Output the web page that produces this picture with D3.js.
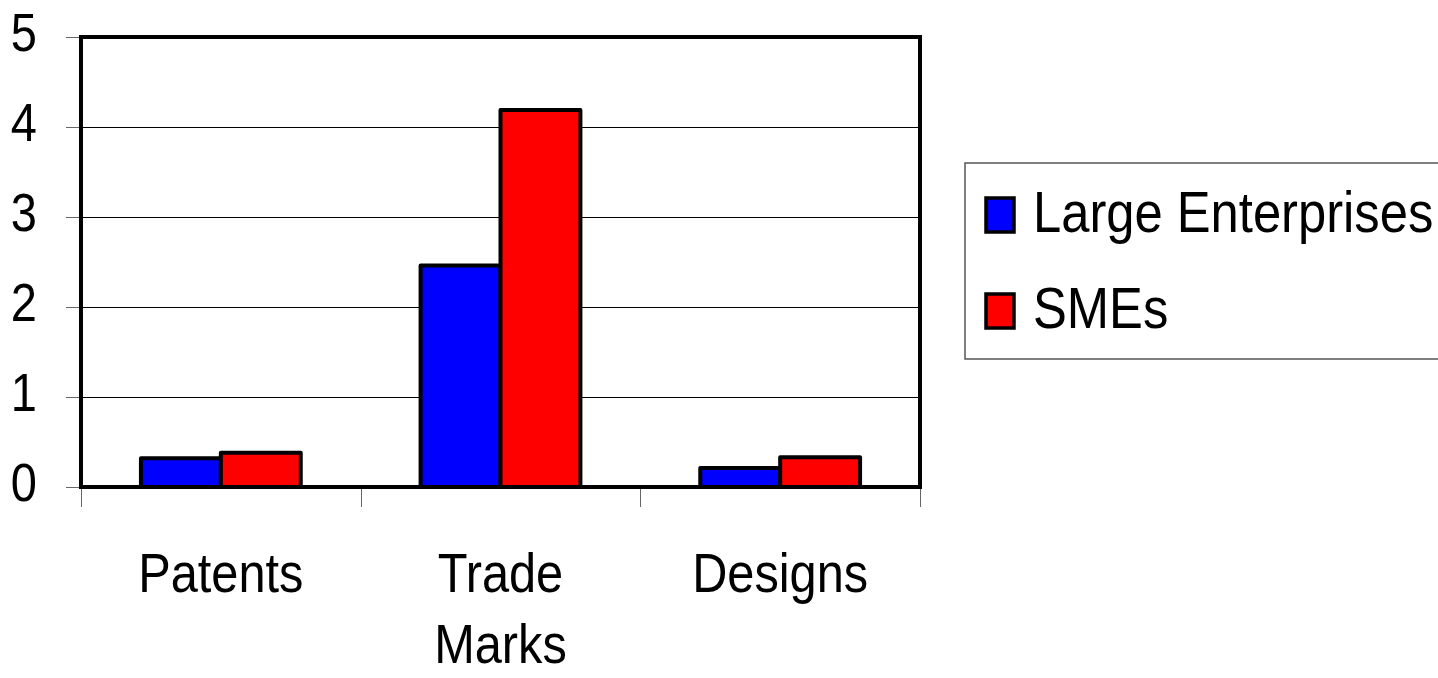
<!DOCTYPE html>
<html>
<head>
<meta charset="utf-8">
<script src="https://cdn.jsdelivr.net/npm/d3@7"></script>
<style>
  body { margin: 0; background: #fff; }
  text { font-family: "Liberation Sans", Arial, sans-serif; fill: #000; }
</style>
</head>
<body>
<div id="svganchor"></div>
<script>
let categories = ["Patents", "Trade Marks", "Designs"];
let seriesNames = ["Large Enterprises", "SMEs"];
let largeValues = [0.32, 2.46, 0.21];
let smeValues = [0.38, 4.19, 0.33];
let yTicks = [0, 1, 2, 3, 4, 5];
let colors = ["#0000ff", "#ff0000"];

let width = 1438;
let height = 678;
let margin = { top: 37, right: 518, bottom: 191, left: 81 };
let sx = 0.87; // text in the original is horizontally condensed

let svg = d3.select("#svganchor").append("svg").attr("width", width).attr("height", height);

let x0 = d3.scaleBand().domain(categories).range([margin.left, width - margin.right]).padding(0);
let x1 = d3.scaleBand().domain(seriesNames).range([0, x0.bandwidth()]).paddingInner(0).paddingOuter(0.75);
let yScale = d3.scaleLinear().domain([0, 5]).range([height - margin.bottom, margin.top]);

let dataSet = categories.map(function (c, i) {
  return { category: c, values: [largeValues[i], smeValues[i]] };
});

// gridlines
svg.selectAll(".grid")
  .data(yTicks.filter(function (d) { return d > 0 && d < 5; }))
  .enter()
  .append("line")
  .attr("class", "grid")
  .attr("x1", margin.left)
  .attr("x2", width - margin.right)
  .attr("y1", function (d) { return Math.round(yScale(d)) + 0.5; })
  .attr("y2", function (d) { return Math.round(yScale(d)) + 0.5; })
  .attr("stroke", "#000")
  .attr("stroke-width", 1.5)
  .attr("shape-rendering", "crispEdges");

// y tick marks
svg.selectAll(".ytick")
  .data(yTicks)
  .enter()
  .append("line")
  .attr("x1", margin.left - 15)
  .attr("x2", margin.left)
  .attr("y1", function (d) { return Math.round(yScale(d)) + 0.5; })
  .attr("y2", function (d) { return Math.round(yScale(d)) + 0.5; })
  .attr("stroke", "#666")
  .attr("stroke-width", 1.5)
  .attr("shape-rendering", "crispEdges");

// x tick marks at category boundaries
let bounds = categories.map(function (c) { return x0(c); }).concat([width - margin.right]);
svg.selectAll(".xtick")
  .data(bounds)
  .enter()
  .append("line")
  .attr("x1", function (d) { return Math.round(d) + 0.5; })
  .attr("x2", function (d) { return Math.round(d) + 0.5; })
  .attr("y1", yScale(0))
  .attr("y2", yScale(0) + 20)
  .attr("stroke", "#666")
  .attr("stroke-width", 1.5)
  .attr("shape-rendering", "crispEdges");

// y labels
svg.selectAll(".ylabel")
  .data(yTicks)
  .enter()
  .append("text")
  .attr("transform", function (d) { return "translate(37," + (yScale(d) + 14) + ") scale(" + sx + ",1)"; })
  .attr("text-anchor", "end")
  .style("font-size", "54px")
  .text(function (d) { return d; });

// bars
let groups = svg.selectAll(".group")
  .data(dataSet)
  .enter()
  .append("g")
  .attr("transform", function (d) { return "translate(" + x0(d.category) + ",0)"; });

groups.selectAll("rect")
  .data(function (d) { return d.values.map(function (v, i) { return { key: seriesNames[i], value: v, idx: i }; }); })
  .enter()
  .append("rect")
  .attr("x", function (d) { return x1(d.key); })
  .attr("width", x1.bandwidth())
  .attr("y", function (d) { return yScale(d.value); })
  .attr("height", function (d) { return yScale(0) - yScale(d.value); })
  .attr("fill", function (d) { return colors[d.idx]; })
  .attr("stroke", "#000")
  .attr("stroke-width", 4)
  .attr("stroke-linejoin", "round");

// plot frame
svg.append("rect")
  .attr("x", margin.left)
  .attr("y", margin.top)
  .attr("width", width - margin.right - margin.left)
  .attr("height", yScale(0) - margin.top)
  .attr("fill", "none")
  .attr("stroke", "#000")
  .attr("stroke-width", 4);

// x labels (Trade Marks wraps on two lines)
let xLabels = svg.selectAll(".xlabel")
  .data(categories)
  .enter()
  .append("text")
  .attr("transform", function (d) { return "translate(" + (x0(d) + x0.bandwidth() / 2) + ",592) scale(" + sx + ",1)"; })
  .attr("text-anchor", "middle")
  .style("font-size", "56px");

xLabels.each(function (d) {
  let words = d.split(" ");
  let t = d3.select(this);
  words.forEach(function (w, i) {
    t.append("tspan").attr("x", 0).attr("dy", i === 0 ? 0 : 71).text(w);
  });
});

// legend
let legend = svg.append("g");
legend.append("rect")
  .attr("x", 965)
  .attr("y", 163)
  .attr("width", 500)
  .attr("height", 196)
  .attr("fill", "#fff")
  .attr("stroke", "#555")
  .attr("stroke-width", 1.5);

let items = legend.selectAll(".item")
  .data(seriesNames)
  .enter()
  .append("g")
  .attr("transform", function (d, i) { return "translate(0," + (i * 96) + ")"; });

items.append("rect")
  .attr("x", 986)
  .attr("y", 198)
  .attr("width", 28)
  .attr("height", 34)
  .attr("fill", function (d, i) { return colors[i]; })
  .attr("stroke", "#000")
  .attr("stroke-width", 3.5);

items.append("text")
  .attr("transform", "translate(1033,232) scale(0.89,1)")
  .style("font-size", "57px")
  .text(function (d) { return d; });
</script>
</body>
</html>
